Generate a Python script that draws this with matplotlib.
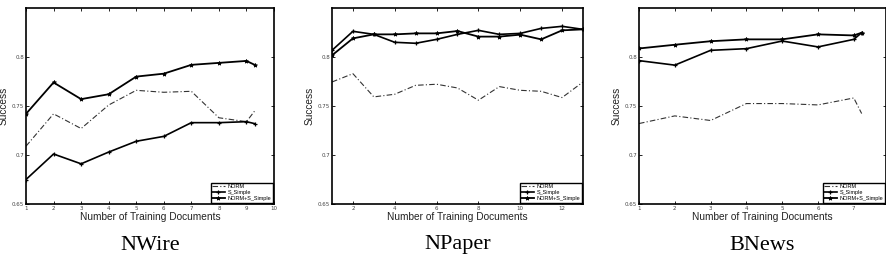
import matplotlib.pyplot as plt
import numpy as np

# NWire
nwire_x = [1, 2, 3, 4, 5, 6, 7, 8, 9, 9.3]
nwire_norm = [0.709, 0.742, 0.727, 0.751, 0.766, 0.764, 0.765, 0.738, 0.734, 0.745]
nwire_simple = [0.675, 0.701, 0.691, 0.703, 0.714, 0.719, 0.733, 0.733, 0.734, 0.732]
nwire_comb = [0.742, 0.774, 0.757, 0.762, 0.780, 0.783, 0.792, 0.794, 0.796, 0.792]

# NPaper
npaper_x = [1, 2, 3, 4, 5, 6, 7, 8, 9, 10, 11, 12, 13]
npaper_norm = [0.7745, 0.783, 0.7593, 0.762, 0.7711, 0.7722, 0.7684, 0.7559, 0.7698,
               0.766, 0.765, 0.7586, 0.7745]
npaper_simple = [0.8068, 0.8262, 0.8231, 0.815, 0.814, 0.818, 0.8231, 0.8272, 0.8231,
                 0.8241, 0.8292, 0.8313, 0.8282]
npaper_comb = [0.8017, 0.819, 0.8231, 0.8231, 0.8241, 0.8241, 0.8265, 0.8208, 0.8208,
               0.8228, 0.818, 0.8272, 0.8282]

# BNews
bnews_x = [1, 2, 3, 4, 5, 6, 7, 7.22]
bnews_norm = [0.7321, 0.7399, 0.7352, 0.7525, 0.7525, 0.7511, 0.7582, 0.7423]
bnews_simple = [0.7963, 0.7917, 0.8068, 0.8085, 0.8163, 0.8103, 0.818, 0.8248]
bnews_comb = [0.8087, 0.8125, 0.8161, 0.818, 0.818, 0.8231, 0.822, 0.8248]

titulos = ["NWire", "NPaper", "BNews"]
series_labels = ["NORM", "S_Simple", "NORM+S_Simple"]

W, H = 887, 262
fig = plt.figure(figsize=(W / 100, H / 100), dpi=100)

# posiciones en pixeles: (izq, der, xlim, xticks)
paneles = [
    (26, 274, (1, 10), list(range(1, 11)), nwire_x, nwire_norm, nwire_simple, nwire_comb),
    (332, 583, (1, 13), list(range(2, 13, 2)), npaper_x, npaper_norm, npaper_simple, npaper_comb),
    (639, 886, (1, 7.9), list(range(1, 8)), bnews_x, bnews_norm, bnews_simple, bnews_comb),
]
top_px, bot_px = 8, 204

sans = "Liberation Sans"
for (izq, der, xl, xt, x, norm, simple, comb), titulo in zip(paneles, titulos):
    ax = fig.add_axes([izq / W, 1 - bot_px / H, (der - izq) / W, (bot_px - top_px) / H])
    ax.plot(x, norm, color="#333333", lw=0.8, ls=(0, (5, 2, 1, 2)), label=series_labels[0])
    ax.plot(x, simple, color="black", lw=1.2, marker="+", ms=3, mew=0.9, label=series_labels[1])
    ax.plot(x, comb, color="black", lw=1.3, marker="*", ms=3, mew=0.6, label=series_labels[2])
    ax.set_xlim(*xl)
    ax.set_ylim(0.65, 0.85)
    ax.set_xticks(xt)
    ax.set_yticks([0.65, 0.7, 0.75, 0.8])
    ax.set_yticklabels(["0.65", "0.7", "0.75", "0.8"])
    ax.tick_params(direction="in", length=2.5, width=0.6, labelsize=4,
                   labelcolor="#444444", top=True, right=True, pad=1.5)
    for sp in ax.spines.values():
        sp.set_linewidth(1.2)
    ax.set_xlabel("Number of Training Documents", fontsize=7.3, family=sans,
                  color="#222222", labelpad=1)
    ax.set_ylabel("Success", fontsize=7.3, family=sans, color="#222222", labelpad=2)
    leg = ax.legend(loc="lower right", fontsize=4, fancybox=False, framealpha=1,
                    edgecolor="black", borderaxespad=0.25, handlelength=2.2,
                    labelspacing=0.15, borderpad=0.3, handletextpad=0.5,
                    prop={"family": sans, "size": 4})
    leg.get_frame().set_linewidth(1.0)
    fig.text((izq + der) / 2 / W, 1 - 245 / H, titulo, ha="center", va="center",
             fontsize=16, family="Liberation Serif")

fig.savefig("out.png", dpi=100)
